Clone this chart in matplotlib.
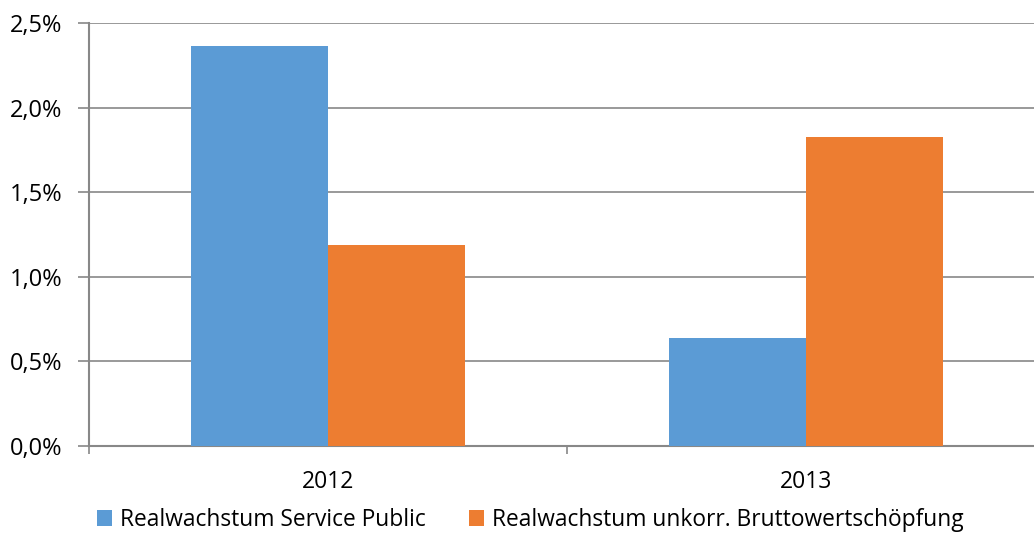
import numpy as np
from matplotlib import pyplot as plt
from matplotlib.ticker import FuncFormatter

# Data
years = ['2012', '2013']
service_public = [2.365, 0.64]
bruttowert = [1.19, 1.825]
series_names = ['Realwachstum Service Public', 'Realwachstum unkorr. Bruttowertschöpfung']
blue = '#5B9BD5'
orange = '#ED7D31'
gridgray = '#888888'

plt.rcParams['font.family'] = ['Open Sans', 'DejaVu Sans']

fig = plt.figure(figsize=(10.34, 5.34), dpi=100)
ax = fig.add_axes([89/1034, 88/534, (1045-89)/1034, (446-23)/534])

x = np.arange(len(years))
w = 0.286
b1 = ax.bar(x - w/2, service_public, w, color=blue, label=series_names[0], zorder=3)
b2 = ax.bar(x + w/2, bruttowert, w, color=orange, label=series_names[1], zorder=3)

ax.set_xlim(-0.5, 1.5)
ax.set_ylim(0, 2.5)
ax.set_yticks(np.arange(0, 2.51, 0.5))
ax.yaxis.set_major_formatter(FuncFormatter(lambda v, p: ('%.1f%%' % v).replace('.', ',')))
ax.yaxis.grid(True, color=gridgray, linewidth=1.2, zorder=0)

ax.set_xticks(x)
ax.set_xticklabels(years)
ax.set_xticks([-0.5, 0.5, 1.5], minor=True)
ax.tick_params(axis='x', which='major', length=0, pad=17, labelsize=16.5)
ax.tick_params(axis='x', which='minor', length=6, color=gridgray, width=1.2)
ax.tick_params(axis='y', length=8, color=gridgray, width=1.2, labelsize=17, pad=11)

for s in ['top', 'right']:
    ax.spines[s].set_visible(False)
for s in ['left', 'bottom']:
    ax.spines[s].set_color(gridgray)
    ax.spines[s].set_linewidth(1.5)

fig.legend(handles=[b1, b2], loc='lower left', bbox_to_anchor=(83/1034, -0.022), ncol=2,
           frameon=False, fontsize=16.4, handlelength=0.67, handleheight=0.67,
           handletextpad=0.35, columnspacing=1.9, borderaxespad=0.2)

fig.savefig('out.png', dpi=100)
